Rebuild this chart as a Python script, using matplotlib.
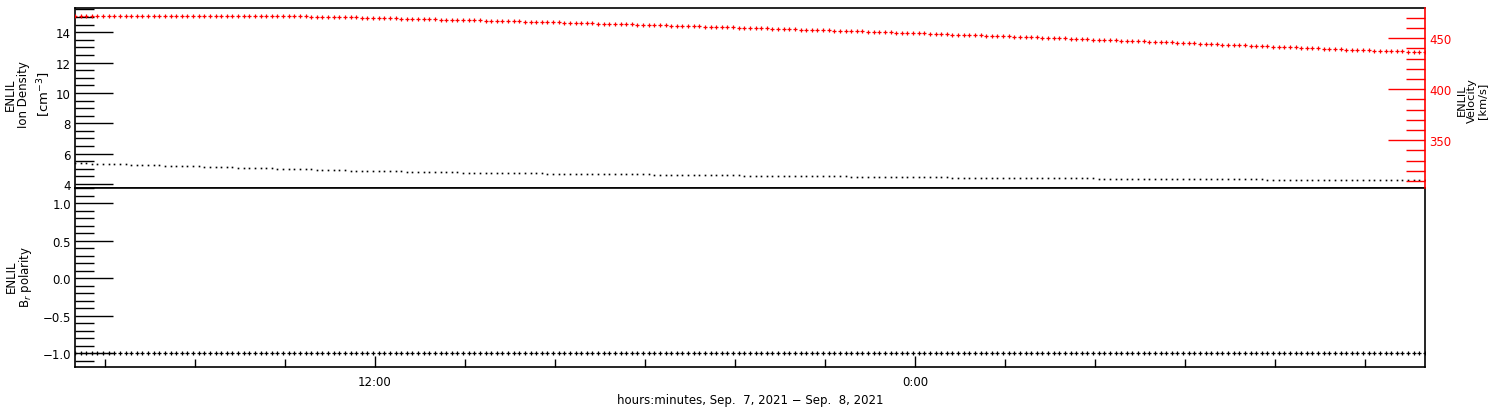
import numpy as np
import pandas as pd
import matplotlib
matplotlib.use("Agg")
import matplotlib.pyplot as plt
import matplotlib.dates as mdates
from matplotlib.ticker import MultipleLocator, FixedLocator

# ---------------- data ----------------
start_time = "2021-09-07 05:20"
n_points = 241
step = "450s"  # 7.5 minute cadence

density = [
    5.38, 5.37, 5.36, 5.35, 5.34, 5.33, 5.32, 5.31,
    5.30, 5.29, 5.28, 5.27, 5.26, 5.25, 5.24, 5.23,
    5.22, 5.21, 5.20, 5.19, 5.18, 5.17, 5.16, 5.15,
    5.14, 5.13, 5.12, 5.11, 5.10, 5.09, 5.08, 5.07,
    5.06, 5.05, 5.04, 5.03, 5.02, 5.01, 5.00, 4.99,
    4.98, 4.97, 4.96, 4.95, 4.94, 4.93, 4.92, 4.91,
    4.90, 4.89, 4.88, 4.88, 4.87, 4.86, 4.85, 4.85,
    4.84, 4.83, 4.83, 4.82, 4.82, 4.81, 4.80, 4.80,
    4.79, 4.78, 4.78, 4.77, 4.77, 4.76, 4.76, 4.75,
    4.75, 4.74, 4.74, 4.73, 4.73, 4.72, 4.72, 4.71,
    4.71, 4.71, 4.70, 4.70, 4.69, 4.69, 4.69, 4.68,
    4.68, 4.68, 4.67, 4.67, 4.66, 4.66, 4.66, 4.65,
    4.65, 4.65, 4.64, 4.64, 4.63, 4.63, 4.63, 4.62,
    4.62, 4.62, 4.61, 4.61, 4.60, 4.60, 4.60, 4.59,
    4.59, 4.59, 4.58, 4.58, 4.57, 4.57, 4.57, 4.56,
    4.56, 4.56, 4.55, 4.55, 4.54, 4.54, 4.54, 4.53,
    4.53, 4.53, 4.52, 4.52, 4.51, 4.51, 4.51, 4.50,
    4.50, 4.50, 4.49, 4.49, 4.48, 4.48, 4.48, 4.47,
    4.47, 4.47, 4.47, 4.46, 4.46, 4.46, 4.45, 4.45,
    4.45, 4.45, 4.44, 4.44, 4.43, 4.43, 4.43, 4.42,
    4.42, 4.42, 4.42, 4.41, 4.41, 4.41, 4.40, 4.40,
    4.40, 4.40, 4.40, 4.39, 4.39, 4.39, 4.38, 4.38,
    4.38, 4.38, 4.38, 4.37, 4.37, 4.37, 4.36, 4.36,
    4.36, 4.36, 4.36, 4.35, 4.35, 4.35, 4.34, 4.34,
    4.34, 4.34, 4.34, 4.33, 4.33, 4.33, 4.32, 4.32,
    4.32, 4.32, 4.32, 4.32, 4.31, 4.31, 4.31, 4.31,
    4.31, 4.31, 4.31, 4.31, 4.30, 4.30, 4.30, 4.30,
    4.30, 4.30, 4.30, 4.30, 4.29, 4.29, 4.29, 4.29,
    4.29, 4.29, 4.29, 4.29, 4.28, 4.28, 4.28, 4.28,
    4.28, 4.28, 4.28, 4.28, 4.27, 4.27, 4.27, 4.27,
    4.27,
]

velocity = [
    472.3, 472.3, 472.3, 472.3, 472.3, 472.3, 472.3, 472.3,
    472.3, 472.3, 472.3, 472.3, 472.3, 472.3, 472.3, 472.3,
    472.3, 472.3, 472.3, 472.3, 472.3, 472.3, 472.3, 472.3,
    472.3, 472.3, 472.3, 472.3, 472.3, 472.3, 472.3, 472.3,
    472.3, 472.3, 472.3, 472.2, 472.0, 471.9, 471.8, 471.7,
    471.6, 471.5, 471.3, 471.2, 471.1, 471.0, 470.9, 470.7,
    470.6, 470.5, 470.4, 470.3, 470.1, 470.0, 469.9, 469.7,
    469.6, 469.5, 469.4, 469.2, 469.1, 469.0, 468.8, 468.7,
    468.6, 468.4, 468.3, 468.2, 468.0, 467.9, 467.8, 467.6,
    467.5, 467.4, 467.2, 467.1, 466.9, 466.8, 466.7, 466.5,
    466.4, 466.2, 466.1, 466.0, 465.8, 465.7, 465.5, 465.4,
    465.2, 465.1, 464.9, 464.8, 464.6, 464.5, 464.3, 464.2,
    464.0, 463.9, 463.7, 463.6, 463.4, 463.3, 463.1, 462.9,
    462.8, 462.6, 462.5, 462.3, 462.1, 462.0, 461.8, 461.7,
    461.5, 461.3, 461.2, 461.0, 460.8, 460.7, 460.5, 460.3,
    460.2, 460.0, 459.8, 459.7, 459.5, 459.3, 459.2, 459.0,
    458.8, 458.6, 458.5, 458.3, 458.1, 458.0, 457.8, 457.6,
    457.4, 457.2, 457.1, 456.9, 456.7, 456.5, 456.3, 456.2,
    456.0, 455.8, 455.6, 455.4, 455.2, 455.1, 454.9, 454.7,
    454.5, 454.3, 454.1, 453.9, 453.7, 453.6, 453.4, 453.2,
    453.0, 452.8, 452.6, 452.4, 452.2, 452.0, 451.8, 451.6,
    451.4, 451.2, 451.0, 450.8, 450.6, 450.4, 450.2, 450.0,
    449.8, 449.6, 449.4, 449.2, 449.0, 448.8, 448.6, 448.4,
    448.2, 448.0, 447.8, 447.6, 447.3, 447.1, 446.9, 446.7,
    446.5, 446.3, 446.1, 445.9, 445.6, 445.4, 445.2, 445.0,
    444.8, 444.6, 444.3, 444.1, 443.9, 443.7, 443.5, 443.2,
    443.0, 442.8, 442.6, 442.4, 442.1, 441.9, 441.7, 441.4,
    441.2, 441.0, 440.8, 440.5, 440.3, 440.1, 439.8, 439.6,
    439.4, 439.1, 438.9, 438.7, 438.5, 438.3, 438.1, 437.9,
    437.8, 437.6, 437.4, 437.3, 437.1, 437.0, 436.9, 436.8,
    436.7,
]

polarity = [-1.0] * n_points

time_labels = ["12:00", "0:00"]
x_title = "hours:minutes, Sep.  7, 2021 \u2212 Sep.  8, 2021"

# ---------------- plotting ----------------
times = pd.date_range(start=start_time, periods=n_points, freq=step)
t0, t1 = times[0], times[-1]

plt.rcParams['font.family'] = ['DejaVu Sans']
fig = plt.figure(figsize=(15, 4.1), dpi=100)

L, R = 0.05, 0.95
ax1 = fig.add_axes([L, 0.539, R - L, 0.9773 - 0.539])
ax2 = fig.add_axes([L, 0.1024, R - L, 0.539 - 0.1024])
ax1r = ax1.twinx()

fs = 8.5

# top panel: density (left), velocity (right)
ax1.plot(times, density, linestyle='none', marker='s', markersize=1.2,
         color='black', markeredgewidth=0)
ax1r.plot(times, velocity, linestyle='none', marker='+', markersize=3.2,
          color='red', markeredgewidth=0.9)

ax1.set_xlim(t0, t1)
ax1.set_ylim(3.74, 15.57)
ax1r.set_ylim(303.2, 479.4)

ax1.yaxis.set_major_locator(MultipleLocator(2))
ax1.yaxis.set_minor_locator(MultipleLocator(0.5))
ax1.tick_params(axis='y', which='major', direction='in', length=27, width=1,
                labelsize=fs, right=False, pad=3)
ax1.tick_params(axis='y', which='minor', direction='in', length=14, width=1,
                right=False)
ax1.tick_params(axis='x', which='both', bottom=False, top=False,
                labelbottom=False)

ax1r.yaxis.set_major_locator(MultipleLocator(50))
ax1r.yaxis.set_minor_locator(MultipleLocator(10))
ax1r.tick_params(axis='y', which='major', direction='in', length=27, width=1,
                 labelsize=fs, colors='red', pad=3)
ax1r.tick_params(axis='y', which='minor', direction='in', length=14, width=1,
                 colors='red')
for sp in ['left', 'top', 'bottom']:
    ax1r.spines[sp].set_visible(False)
ax1r.spines['right'].set_color('red')
ax1.spines['right'].set_visible(False)

# bottom panel: polarity
ax2.plot(times, polarity, linestyle='none', marker='+', markersize=3.2,
         color='black', markeredgewidth=0.9)
ax2.set_xlim(t0, t1)
ax2.set_ylim(-1.187, 1.205)
ax2.yaxis.set_major_locator(MultipleLocator(0.5))
ax2.yaxis.set_minor_locator(MultipleLocator(0.1))
ax2.yaxis.set_major_formatter(matplotlib.ticker.FuncFormatter(
    lambda v, p: ("%.1f" % v).replace('-', '\u2212')))
ax2.tick_params(axis='y', which='major', direction='in', length=27, width=1,
                labelsize=fs, right=False, pad=3)
ax2.tick_params(axis='y', which='minor', direction='in', length=14, width=1,
                right=False)

major_times = [pd.Timestamp("2021-09-07 12:00"), pd.Timestamp("2021-09-08 00:00")]
ax2.xaxis.set_major_locator(FixedLocator(mdates.date2num(major_times)))
ax2.set_xticklabels(time_labels)
ax2.xaxis.set_minor_locator(mdates.HourLocator(byhour=range(0, 24, 2)))
ax2.tick_params(axis='x', which='major', direction='in', length=8, width=1,
                labelsize=fs, top=False, pad=6)
ax2.tick_params(axis='x', which='minor', direction='in', length=6, width=1,
                top=False)
ax2.set_xlabel(x_title, fontsize=fs, labelpad=3)

for ax in (ax1, ax2):
    for sp in ax.spines.values():
        sp.set_linewidth(1.2)
ax1r.spines['right'].set_linewidth(1.2)

# axis titles
fig.text(0.011, 0.77, "ENLIL\nIon Density", rotation=90, ha='center',
         va='center', fontsize=fs, linespacing=1.0)
fig.text(0.0295, 0.77, "[cm$^{-3}$]", rotation=90, ha='center', va='center',
         fontsize=fs + 1)
fig.text(0.013, 0.325, "ENLIL\nB$_r$ polarity", rotation=90, ha='center',
         va='center', fontsize=fs, linespacing=1.0)
fig.text(0.9815, 0.755, "ENLIL\nVelocity\n[km/s]", rotation=90, ha='center',
         va='center', fontsize=fs - 0.3, linespacing=1.0)

fig.savefig("out.png", dpi=100)
